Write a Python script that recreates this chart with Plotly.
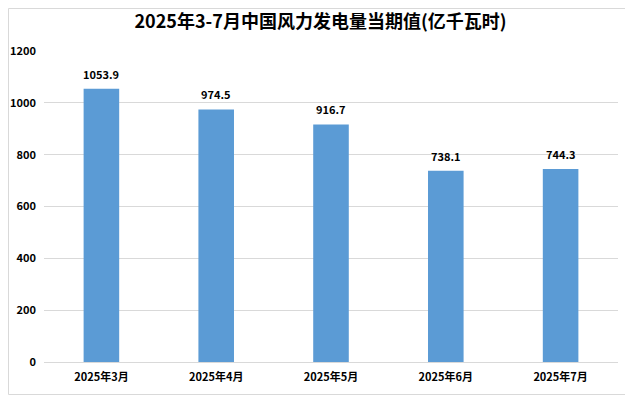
import plotly.graph_objects as go

categories = ["2025年3月", "2025年4月", "2025年5月", "2025年6月", "2025年7月"]
values = [1053.9, 974.5, 916.7, 738.1, 744.3]
title = "2025年3-7月中国风力发电量当期值(亿千瓦时)"

font_family = "Noto Sans CJK SC, Liberation Sans, sans-serif"

# page body has 8px default margin; figure sized so plot lands at reference coords
W, H = 625, 387
L, R, T, B = 36, 15, 43, 33
pw, ph = W - L - R, H - T - B

fig = go.Figure()
fig.add_trace(go.Bar(
    x=categories, y=values,
    marker=dict(color="#5B9BD5", line=dict(width=0)),
    hoverinfo="x+y",
))
for c, v in zip(categories, values):
    fig.add_annotation(x=c, y=v, text=f"<b>{v:.1f}</b>", showarrow=False,
                       yanchor="bottom", yshift=5,
                       font=dict(size=11, color="#000000", family=font_family))

fig.update_layout(
    width=W, height=H,
    margin=dict(l=L, r=R, t=T, b=B, autoexpand=False),
    paper_bgcolor="white", plot_bgcolor="white",
    bargap=0.69,
    showlegend=False,
    title=dict(text=f"<b>{title}</b>", x=0.5, xanchor="center", y=1 - 14 / H, yanchor="middle",
               font=dict(size=18, color="#000000", family=font_family)),
    xaxis=dict(showgrid=False, showline=True, linecolor="#D9D9D9", linewidth=1,
               automargin=False,
               ticks="", tickfont=dict(size=11, color="#000000", family=font_family),
               tickprefix="<b>", ticksuffix="</b>", ticklabelstandoff=5),
    yaxis=dict(range=[0, 1200], dtick=200, showgrid=True, gridcolor="#D9D9D9",
               gridwidth=1, zeroline=False, showline=False, ticks="",
               automargin=False,
               tickfont=dict(size=11, color="#000000", family=font_family),
               tickprefix="<b>", ticksuffix="</b>", ticklabelstandoff=7),
    shapes=[dict(type="rect", xref="paper", yref="paper",
                 x0=-(L - 0.5) / pw, x1=1 + (R - 0.5) / pw,
                 y0=-(B - 0.5) / ph, y1=1 + (T - 0.5) / ph,
                 line=dict(color="#D9D9D9", width=1))],
)

fig.write_html("out.html")
